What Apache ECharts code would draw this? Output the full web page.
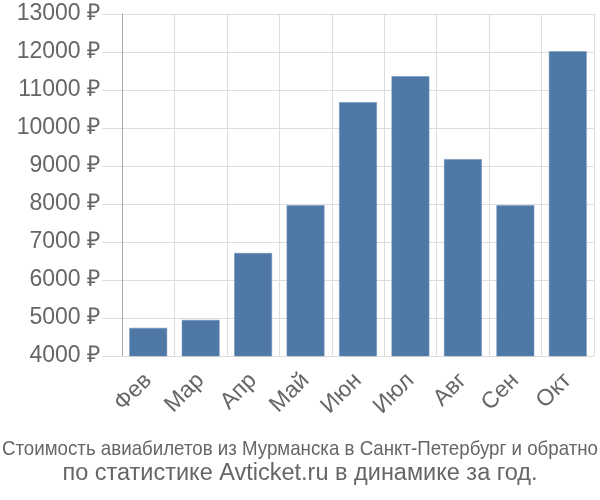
<!DOCTYPE html>
<html><head><meta charset="utf-8">
<script src="https://cdn.jsdelivr.net/npm/echarts@6/dist/echarts.min.js"></script>
<style>html,body{margin:0;padding:0;background:#fff}#c{width:600px;height:500px}</style>
</head><body><div id="c"></div>
<script>
const categories = ['Фев','Мар','Апр','Май','Июн','Июл','Авг','Сен','Окт'];
const prices = [4740, 4950, 6710, 7970, 10680, 11360, 9180, 7970, 12020];
const yMin = 4000, yMax = 13000, yStep = 1000;
const titleLine1 = 'Стоимость авиабилетов из Мурманска в Санкт-Петербург и обратно';
const titleLine2 = 'по статистике Avticket.ru в динамике за год.';

const font1 = '21px "Liberation Sans"';
const ctx = document.createElement('canvas').getContext('2d');
ctx.font = font1;
const w1 = ctx.measureText(titleLine1).width;
const sx1 = 596 / w1;

const chart = echarts.init(document.getElementById('c'));
chart.setOption({
  animation: false,
  graphic: [
    {type: 'text', x: 300, y: 449, scaleX: sx1, scaleY: 1,
     style: {text: titleLine1, font: font1, fill: '#666', textAlign: 'center', textVerticalAlign: 'middle'}},
    {type: 'text', x: 300, y: 474,
     style: {text: titleLine2, font: '23.5px "Liberation Sans"', fill: '#666', textAlign: 'center', textVerticalAlign: 'middle'}}
  ],
  grid: {left: 122, right: 6, top: 14, bottom: 144},
  xAxis: {
    type: 'category', data: categories,
    axisLine: {lineStyle: {color: '#ddd'}},
    axisTick: {length: 20, lineStyle: {color: '#ddd'}},
    splitLine: {show: true, lineStyle: {color: '#ddd'}},
    axisLabel: {rotate: 45, fontFamily: 'Liberation Sans', fontSize: 23, color: '#666', margin: 21}
  },
  yAxis: {
    type: 'value', min: yMin, max: yMax, interval: yStep,
    axisLine: {show: true, lineStyle: {color: '#aaa'}},
    axisTick: {show: true, length: 20, lineStyle: {color: '#ddd'}},
    splitLine: {lineStyle: {color: '#ddd'}},
    axisLabel: {formatter: v => v + ' ₽', fontFamily: 'Liberation Sans', fontSize: 23, color: '#666', margin: 22}
  },
  series: [{
    type: 'bar', data: prices, barCategoryGap: '28%',
    itemStyle: {color: '#4e78a6', borderColor: '#6a8fb8', borderWidth: 0.5}
  }]
});
</script></body></html>
